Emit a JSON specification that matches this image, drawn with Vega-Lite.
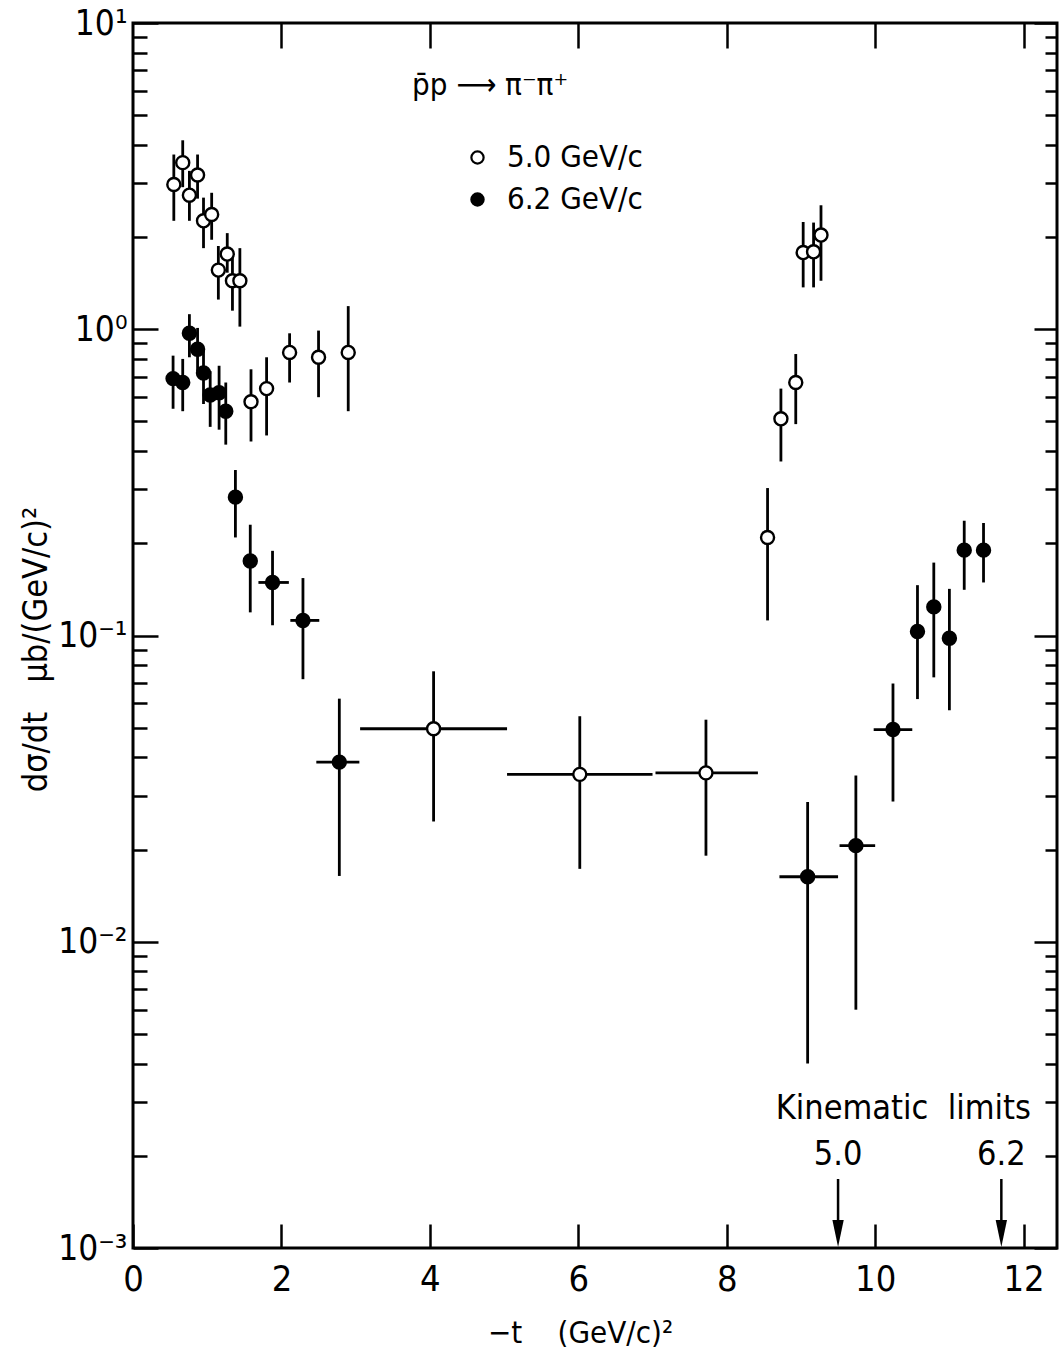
{
  "$schema": "https://vega.github.io/schema/vega-lite/v6.json",
  "autosize": {"type": "none"},
  "width": 924,
  "height": 1225,
  "padding": {"left": 133, "top": 23, "right": 5, "bottom": 104},
  "background": "white",
  "config": {
    "view": {"stroke": "black", "strokeWidth": 3},
    "font": "Liberation Sans Narrow, DejaVu Sans Condensed, Liberation Sans, sans-serif",
    "axis": {"labelColor": "black", "titleColor": "black", "labelFont": "Liberation Sans Narrow, DejaVu Sans Condensed, Liberation Sans, sans-serif", "titleFont": "Liberation Sans Narrow, DejaVu Sans Condensed, Liberation Sans, sans-serif"}
  },
  "datasets": {
    "pts": [
      {"series": "5.0 GeV/c", "t": 0.55, "v": 2.97, "lo": 2.26, "hi": 3.72},
      {"series": "5.0 GeV/c", "t": 0.67, "v": 3.50, "lo": 2.91, "hi": 4.14},
      {"series": "5.0 GeV/c", "t": 0.76, "v": 2.74, "lo": 2.26, "hi": 3.29},
      {"series": "5.0 GeV/c", "t": 0.87, "v": 3.19, "lo": 2.67, "hi": 3.72},
      {"series": "5.0 GeV/c", "t": 0.95, "v": 2.26, "lo": 1.84, "hi": 2.69},
      {"series": "5.0 GeV/c", "t": 1.06, "v": 2.37, "lo": 1.96, "hi": 2.79},
      {"series": "5.0 GeV/c", "t": 1.15, "v": 1.56, "lo": 1.25, "hi": 1.87},
      {"series": "5.0 GeV/c", "t": 1.27, "v": 1.76, "lo": 1.53, "hi": 2.06},
      {"series": "5.0 GeV/c", "t": 1.34, "v": 1.44, "lo": 1.15, "hi": 1.73},
      {"series": "5.0 GeV/c", "t": 1.44, "v": 1.44, "lo": 1.02, "hi": 1.84},
      {"series": "5.0 GeV/c", "t": 1.59, "v": 0.58, "lo": 0.43, "hi": 0.74},
      {"series": "5.0 GeV/c", "t": 1.80, "v": 0.64, "lo": 0.45, "hi": 0.81},
      {"series": "5.0 GeV/c", "t": 2.11, "v": 0.84, "lo": 0.67, "hi": 0.97},
      {"series": "5.0 GeV/c", "t": 2.50, "v": 0.81, "lo": 0.60, "hi": 0.99},
      {"series": "5.0 GeV/c", "t": 2.90, "v": 0.84, "lo": 0.54, "hi": 1.19},
      {"series": "5.0 GeV/c", "t": 4.05, "v": 0.0496, "lo": 0.0247, "hi": 0.0764, "tlo": 3.06, "thi": 5.04},
      {"series": "5.0 GeV/c", "t": 6.02, "v": 0.0352, "lo": 0.0173, "hi": 0.0545, "tlo": 5.04, "thi": 7.00},
      {"series": "5.0 GeV/c", "t": 7.72, "v": 0.0356, "lo": 0.0191, "hi": 0.0531, "tlo": 7.04, "thi": 8.42},
      {"series": "5.0 GeV/c", "t": 8.55, "v": 0.209, "lo": 0.112, "hi": 0.303},
      {"series": "5.0 GeV/c", "t": 8.73, "v": 0.51, "lo": 0.37, "hi": 0.64},
      {"series": "5.0 GeV/c", "t": 8.93, "v": 0.67, "lo": 0.49, "hi": 0.83},
      {"series": "5.0 GeV/c", "t": 9.03, "v": 1.78, "lo": 1.37, "hi": 2.24},
      {"series": "5.0 GeV/c", "t": 9.17, "v": 1.79, "lo": 1.37, "hi": 2.23},
      {"series": "5.0 GeV/c", "t": 9.27, "v": 2.03, "lo": 1.44, "hi": 2.54},
      {"series": "6.2 GeV/c", "t": 0.54, "v": 0.69, "lo": 0.55, "hi": 0.82},
      {"series": "6.2 GeV/c", "t": 0.67, "v": 0.67, "lo": 0.54, "hi": 0.80},
      {"series": "6.2 GeV/c", "t": 0.76, "v": 0.97, "lo": 0.81, "hi": 1.12},
      {"series": "6.2 GeV/c", "t": 0.87, "v": 0.86, "lo": 0.73, "hi": 1.01},
      {"series": "6.2 GeV/c", "t": 0.95, "v": 0.72, "lo": 0.57, "hi": 0.85},
      {"series": "6.2 GeV/c", "t": 1.04, "v": 0.61, "lo": 0.48, "hi": 0.73},
      {"series": "6.2 GeV/c", "t": 1.16, "v": 0.62, "lo": 0.47, "hi": 0.76},
      {"series": "6.2 GeV/c", "t": 1.25, "v": 0.54, "lo": 0.42, "hi": 0.67},
      {"series": "6.2 GeV/c", "t": 1.38, "v": 0.283, "lo": 0.209, "hi": 0.347},
      {"series": "6.2 GeV/c", "t": 1.58, "v": 0.175, "lo": 0.119, "hi": 0.230},
      {"series": "6.2 GeV/c", "t": 1.88, "v": 0.149, "lo": 0.108, "hi": 0.189, "tlo": 1.69, "thi": 2.10},
      {"series": "6.2 GeV/c", "t": 2.29, "v": 0.112, "lo": 0.072, "hi": 0.154, "tlo": 2.12, "thi": 2.51},
      {"series": "6.2 GeV/c", "t": 2.78, "v": 0.0386, "lo": 0.0164, "hi": 0.0622, "tlo": 2.47, "thi": 3.05},
      {"series": "6.2 GeV/c", "t": 9.09, "v": 0.0163, "lo": 0.0040, "hi": 0.0286, "tlo": 8.71, "thi": 9.50},
      {"series": "6.2 GeV/c", "t": 9.74, "v": 0.0206, "lo": 0.0060, "hi": 0.0349, "tlo": 9.52, "thi": 10.00},
      {"series": "6.2 GeV/c", "t": 10.24, "v": 0.0493, "lo": 0.0287, "hi": 0.0697, "tlo": 9.98, "thi": 10.50},
      {"series": "6.2 GeV/c", "t": 10.57, "v": 0.103, "lo": 0.062, "hi": 0.146},
      {"series": "6.2 GeV/c", "t": 10.79, "v": 0.124, "lo": 0.073, "hi": 0.173},
      {"series": "6.2 GeV/c", "t": 11.00, "v": 0.098, "lo": 0.057, "hi": 0.142},
      {"series": "6.2 GeV/c", "t": 11.20, "v": 0.190, "lo": 0.141, "hi": 0.237},
      {"series": "6.2 GeV/c", "t": 11.46, "v": 0.190, "lo": 0.149, "hi": 0.233}
    ],
    "notes": [
      {"label": "Kinematic\u00a0\u00a0limits", "t": 10.38, "v": 0.00264},
      {"label": "5.0", "t": 9.5, "v": 0.00186},
      {"label": "6.2", "t": 11.7, "v": 0.00186}
    ],
    "arrows": [
      {"t": 9.5, "top": 0.00168, "bottom": 0.00118, "head": 0.001115},
      {"t": 11.7, "top": 0.00168, "bottom": 0.00118, "head": 0.001115}
    ]
  },
  "resolve": {"axis": {"x": "independent", "y": "independent"}},
  "layer": [
    {
      "data": {"name": "pts"},
      "mark": {"type": "rule", "strokeWidth": 2.8, "color": "black"},
      "encoding": {
        "x": {"field": "t", "type": "quantitative", "scale": {"domain": [0, 12.45], "nice": false, "zero": false},
          "axis": {"orient": "bottom", "values": [0, 2, 4, 6, 8, 10, 12], "format": "d", "tickSize": -24, "tickWidth": 2.5, "tickColor": "black", "domain": false, "grid": false, "labelFontSize": 36, "labelPadding": 38, "labelFlush": false, "labelOverlap": false, "title": "\u2212t\u00a0\u00a0\u00a0\u00a0(GeV/c)²", "titleFontSize": 31, "titleFontWeight": "normal", "titleX": 447, "titleY": 94, "titleAlign": "center", "titleBaseline": "alphabetic"}},
        "y": {"field": "lo", "type": "quantitative", "scale": {"type": "log", "domain": [0.001, 10], "nice": false},
          "axis": {"orient": "left", "values": [0.001, 0.002, 0.003, 0.004, 0.005, 0.006, 0.007, 0.008, 0.009, 0.01, 0.02, 0.03, 0.04, 0.05, 0.06, 0.07, 0.08, 0.09, 0.1, 0.2, 0.3, 0.4, 0.5, 0.6, 0.7, 0.8, 0.9, 1, 2, 3, 4, 5, 6, 7, 8, 9, 10],
            "labelExpr": "datum.value > 9.99 ? '10¹' : (datum.value > 0.999 && datum.value < 1.001) ? '10⁰' : (datum.value > 0.0999 && datum.value < 0.1001) ? '10⁻¹' : (datum.value > 0.00999 && datum.value < 0.01001) ? '10⁻²' : (datum.value > 0.000999 && datum.value < 0.001001) ? '10⁻³' : ''",
            "tickSize": {"condition": {"test": "abs(log(datum.value)/LN10 - round(log(datum.value)/LN10)) < 0.001", "value": -25}, "value": -14},
            "tickWidth": 2.5, "tickColor": "black", "domain": false, "grid": false, "labelFontSize": 35, "labelPadding": 31, "labelFlush": false, "labelOverlap": false, "labelBound": false,
            "title": "dσ/dt\u00a0\u00a0\u00a0μb/(GeV/c)²", "titleFontSize": 34, "titleFontWeight": "normal", "titleX": -97, "titleY": 626, "titleAngle": -90, "titleAlign": "center", "titleBaseline": "middle"}},
        "y2": {"field": "hi"}
      }
    },
    {
      "data": {"name": "pts"},
      "transform": [{"filter": "isValid(datum.tlo)"}],
      "mark": {"type": "rule", "strokeWidth": 2.8, "color": "black"},
      "encoding": {
        "x": {"field": "tlo", "type": "quantitative", "scale": {"domain": [0, 12.45], "nice": false, "zero": false},
          "axis": {"orient": "top", "values": [2, 4, 6, 8, 10, 12], "labels": false, "tickSize": -25, "tickWidth": 2.5, "tickColor": "black", "domain": false, "grid": false, "title": null}},
        "x2": {"field": "thi"},
        "y": {"field": "v", "type": "quantitative", "scale": {"type": "log", "domain": [0.001, 10], "nice": false},
          "axis": {"orient": "right", "values": [0.001, 0.002, 0.003, 0.004, 0.005, 0.006, 0.007, 0.008, 0.009, 0.01, 0.02, 0.03, 0.04, 0.05, 0.06, 0.07, 0.08, 0.09, 0.1, 0.2, 0.3, 0.4, 0.5, 0.6, 0.7, 0.8, 0.9, 1, 2, 3, 4, 5, 6, 7, 8, 9, 10],
            "labels": false,
            "tickSize": {"condition": {"test": "abs(log(datum.value)/LN10 - round(log(datum.value)/LN10)) < 0.001", "value": -23}, "value": -12},
            "tickWidth": 2.5, "tickColor": "black", "domain": false, "grid": false, "title": null}}
      }
    },
    {
      "data": {"name": "pts"},
      "mark": {"type": "point", "shape": "circle", "filled": true, "stroke": "black", "strokeWidth": 2.4, "size": 170, "opacity": 1},
      "encoding": {
        "x": {"field": "t", "type": "quantitative", "scale": {"domain": [0, 12.45], "nice": false, "zero": false}, "axis": null},
        "y": {"field": "v", "type": "quantitative", "scale": {"type": "log", "domain": [0.001, 10], "nice": false}, "axis": null},
        "fill": {"field": "series", "type": "nominal", "scale": {"domain": ["5.0 GeV/c", "6.2 GeV/c"], "range": ["white", "black"]},
          "legend": {"title": "p̄p ⟶ π⁻π⁺", "orient": "none", "legendX": 279, "legendY": 48, "padding": 0,
            "titleFont": "Liberation Sans Narrow, DejaVu Sans Condensed, Liberation Sans, sans-serif", "titleFontSize": 31, "titleFontWeight": "normal", "titleColor": "black", "titlePadding": 40, "titleLimit": 400,
            "labelFont": "Liberation Sans Narrow, DejaVu Sans Condensed, Liberation Sans, sans-serif", "labelFontSize": 31, "labelColor": "black", "labelLimit": 400, "labelOffset": 14,
            "symbolType": "circle", "symbolSize": 150, "symbolStrokeColor": "black", "symbolStrokeWidth": 2.2, "symbolOffset": 50, "rowPadding": 10}}
      }
    },
    {
      "data": {"name": "notes"},
      "mark": {"type": "text", "fontSize": 34, "align": "center", "baseline": "alphabetic", "color": "black"},
      "encoding": {
        "x": {"field": "t", "type": "quantitative", "scale": {"domain": [0, 12.45], "nice": false, "zero": false}, "axis": null},
        "y": {"field": "v", "type": "quantitative", "scale": {"type": "log", "domain": [0.001, 10], "nice": false}, "axis": null},
        "text": {"field": "label"}
      }
    },
    {
      "data": {"name": "arrows"},
      "mark": {"type": "rule", "strokeWidth": 2.5, "color": "black"},
      "encoding": {
        "x": {"field": "t", "type": "quantitative", "scale": {"domain": [0, 12.45], "nice": false, "zero": false}, "axis": null},
        "y": {"field": "top", "type": "quantitative", "scale": {"type": "log", "domain": [0.001, 10], "nice": false}, "axis": null},
        "y2": {"field": "bottom"}
      }
    },
    {
      "data": {"name": "arrows"},
      "mark": {"type": "point", "shape": "M-0.42,-1L0.42,-1L0,1Z", "filled": true, "color": "black", "size": 729, "opacity": 1},
      "encoding": {
        "x": {"field": "t", "type": "quantitative", "scale": {"domain": [0, 12.45], "nice": false, "zero": false}, "axis": null},
        "y": {"field": "head", "type": "quantitative", "scale": {"type": "log", "domain": [0.001, 10], "nice": false}, "axis": null}
      }
    }
  ]
}
